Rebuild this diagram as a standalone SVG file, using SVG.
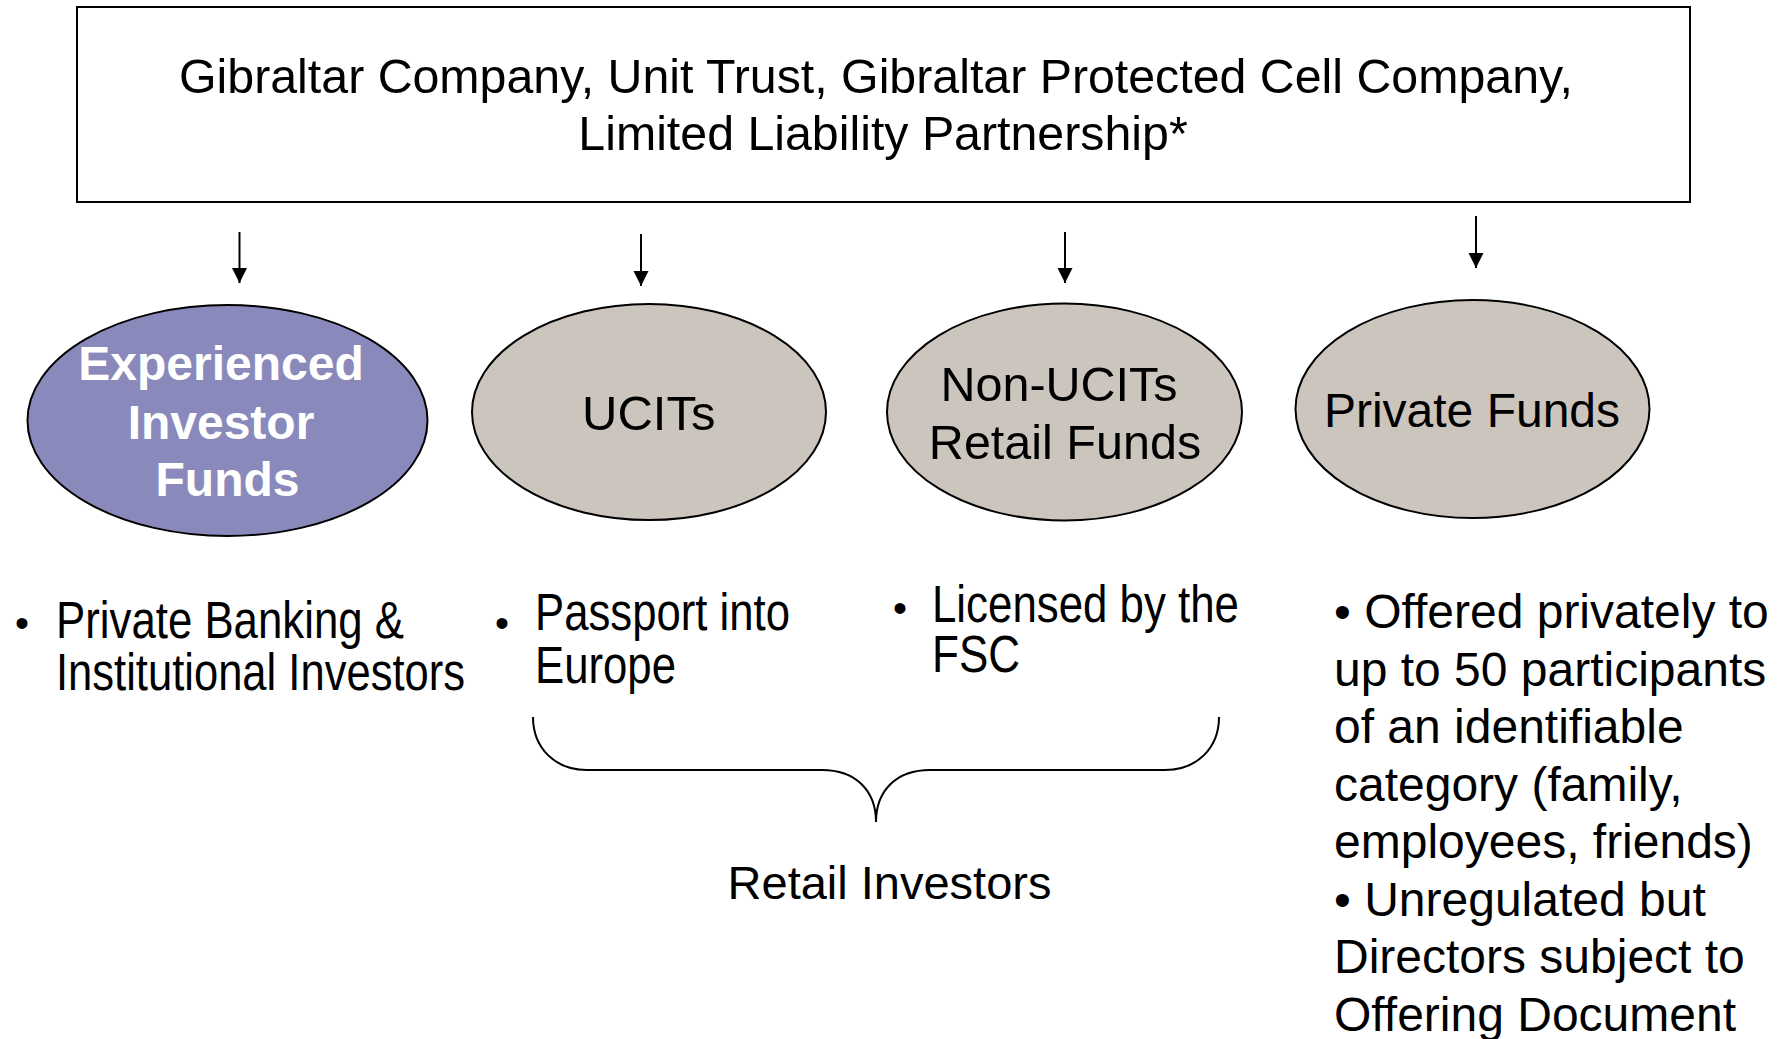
<svg xmlns="http://www.w3.org/2000/svg" width="1786" height="1039" viewBox="0 0 1786 1039">
<defs>
<marker id="ah" markerWidth="16" markerHeight="16" refX="15" refY="8" orient="auto" markerUnits="userSpaceOnUse"><path d="M0,0.5 L15,8 L0,15.5 z" fill="#000"/></marker>
<style>
.t{font-family:"Liberation Sans",Arial,sans-serif;fill:#000}
.n{font-family:"Liberation Sans Narrow","Liberation Sans",Arial,sans-serif;fill:#000}
.ell{stroke:#000;stroke-width:2}
.grey{fill:#CBC5BE}
.purple{fill:#8989BC}
.conn{stroke:#000;stroke-width:2;fill:none}
</style>
</defs>
<rect width="1786" height="1039" fill="#fff"/>
<g id="top">
<rect x="77" y="7" width="1613" height="195" fill="#fff" stroke="#000" stroke-width="2"/>
<text class="t" font-size="48.3" text-anchor="middle"><tspan x="876" y="93">Gibraltar Company, Unit Trust, Gibraltar Protected Cell Company,</tspan><tspan x="883" y="150">Limited Liability Partnership*</tspan></text>
</g>
<g id="connectors">
<line class="conn" x1="239.5" y1="232" x2="239.5" y2="283" marker-end="url(#ah)"/>
<line class="conn" x1="641" y1="234" x2="641" y2="286" marker-end="url(#ah)"/>
<line class="conn" x1="1065" y1="232" x2="1065" y2="283" marker-end="url(#ah)"/>
<line class="conn" x1="1476" y1="216" x2="1476" y2="268" marker-end="url(#ah)"/>
<path class="conn" d="M533,717 C533,748 555,770 587,770 L822,770 C855,770 876,790 876,822 C876,790 897,770 930,770 L1165,770 C1197,770 1219,748 1219,717"/>
</g>
<g id="eif">
<ellipse class="ell purple" cx="227.5" cy="420.5" rx="200" ry="115.5"/>
<text class="t" font-size="48" font-weight="bold" style="fill:#fff" text-anchor="middle"><tspan x="221" y="380">Experienced</tspan><tspan x="221" y="439">Investor</tspan><tspan x="227.5" y="496">Funds</tspan></text>
</g>
<g id="ucits">
<ellipse class="ell grey" cx="649" cy="412" rx="177" ry="108"/>
<text class="t" font-size="49" text-anchor="middle" x="648.7" y="430">UCITs</text>
</g>
<g id="nonucits">
<ellipse class="ell grey" cx="1064.5" cy="412" rx="177.5" ry="108.5"/>
<text class="t" font-size="48.5" text-anchor="middle"><tspan x="1059" y="401">Non-UCITs</tspan><tspan x="1065" y="459">Retail Funds</tspan></text>
</g>
<g id="private">
<ellipse class="ell grey" cx="1472.5" cy="409" rx="177" ry="109"/>
<text class="t" font-size="48" text-anchor="middle" x="1472" y="427">Private Funds</text>
</g>
<g id="bullet-eif">
<text class="t" font-size="40" text-anchor="middle" x="22" y="637">•</text>
<text class="n" font-size="51" x="56" y="638" textLength="348" lengthAdjust="spacingAndGlyphs">Private Banking &amp;</text>
<text class="n" font-size="51" x="56" y="690" textLength="409" lengthAdjust="spacingAndGlyphs">Institutional Investors</text>
</g>
<g id="bullet-ucits">
<text class="t" font-size="40" text-anchor="middle" x="502" y="637">•</text>
<text class="n" font-size="51" x="535" y="630" textLength="255" lengthAdjust="spacingAndGlyphs">Passport into</text>
<text class="n" font-size="51" x="535" y="683" textLength="141" lengthAdjust="spacingAndGlyphs">Europe</text>
</g>
<g id="bullet-nonucits">
<text class="t" font-size="40" text-anchor="middle" x="900" y="622">•</text>
<text class="n" font-size="51" x="932" y="622" textLength="307" lengthAdjust="spacingAndGlyphs">Licensed by the</text>
<text class="n" font-size="51" x="932" y="672" textLength="88" lengthAdjust="spacingAndGlyphs">FSC</text>
</g>
<g id="bullet-private">
<text class="t" font-size="48"><tspan x="1334" y="628">• Offered privately to</tspan><tspan x="1334" y="685.5">up to 50 participants</tspan><tspan x="1334" y="743">of an identifiable</tspan><tspan x="1334" y="800.5">category (family,</tspan><tspan x="1334" y="858">employees, friends)</tspan><tspan x="1334" y="915.5">• Unregulated but</tspan><tspan x="1334" y="973">Directors subject to</tspan><tspan x="1334" y="1030.5">Offering Document</tspan></text>
</g>
<g id="retail">
<text class="t" font-size="47" text-anchor="middle" x="889.5" y="899">Retail Investors</text>
</g>
</svg>
